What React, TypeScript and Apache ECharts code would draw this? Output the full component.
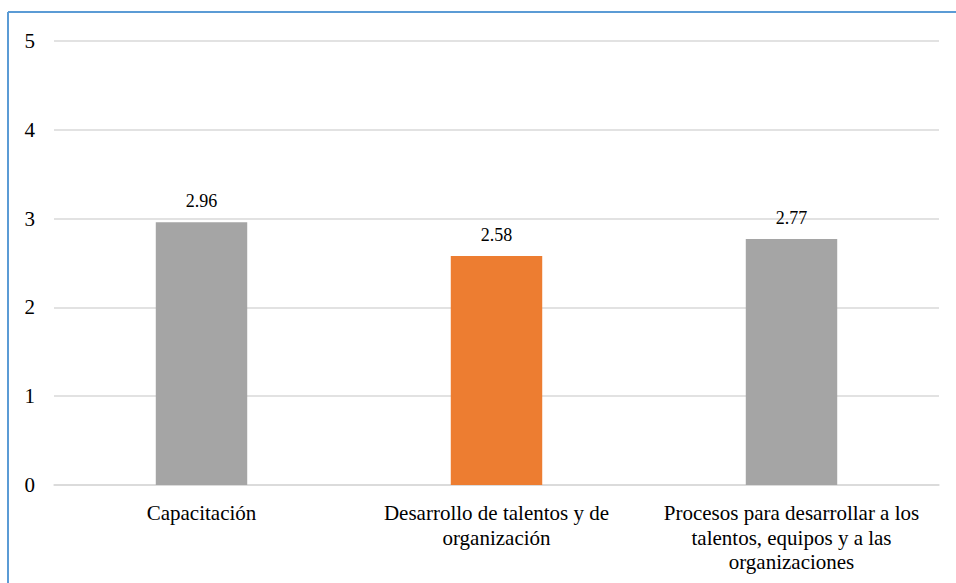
import React, { useEffect, useRef } from "react";
import * as echarts from "echarts";

const categories = [
  "Capacitación",
  "Desarrollo de talentos y de\norganización",
  "Procesos para desarrollar a los\ntalentos, equipos y a las\norganizaciones",
];
const values = [2.96, 2.58, 2.77];
const barColors = ["#A5A5A5", "#ED7D31", "#A5A5A5"];
const yTicks = [0, 1, 2, 3, 4, 5];

export default function App() {
  const ref = useRef<HTMLDivElement>(null);
  useEffect(() => {
    if (!ref.current) return;
    const chart = echarts.init(ref.current, undefined, { renderer: "svg" });
    const font = "Times New Roman, serif";
    chart.setOption({
      animation: false,
      backgroundColor: "#ffffff",
      textStyle: { fontFamily: font },
      grid: { left: 54, right: 17, top: 41, bottom: 98, containLabel: false },
      graphic: [
        {
          type: "line",
          shape: { x1: 8, y1: 12, x2: 956, y2: 12 },
          style: { stroke: "#5B9BD5", lineWidth: 2 },
        },
        {
          type: "line",
          shape: { x1: 8, y1: 12, x2: 8, y2: 583 },
          style: { stroke: "#5B9BD5", lineWidth: 2 },
        },
      ],
      xAxis: {
        type: "category",
        data: categories,
        axisLine: { show: true, lineStyle: { color: "#D9D9D9", width: 1.5 } },
        axisTick: { show: false },
        axisLabel: {
          interval: 0,
          margin: 16,
          fontSize: 21,
          lineHeight: 24.5,
          color: "#000000",
          fontFamily: font,
          align: "center",
        },
      },
      yAxis: {
        type: "value",
        min: yTicks[0],
        max: yTicks[yTicks.length - 1],
        interval: 1,
        axisLine: { show: false },
        axisTick: { show: false },
        splitLine: { lineStyle: { color: "#D9D9D9", width: 1.5 } },
        axisLabel: {
          margin: 19,
          fontSize: 21,
          color: "#000000",
          fontFamily: font,
        },
      },
      series: [
        {
          type: "bar",
          barWidth: "31%",
          data: values.map((v, i) => ({ value: v, itemStyle: { color: barColors[i] } })),
          label: {
            show: true,
            position: "top",
            distance: 12,
            fontSize: 18,
            color: "#000000",
            fontFamily: font,
            formatter: (p: any) => p.value.toFixed(2),
          },
        },
      ],
    });
    return () => chart.dispose();
  }, []);
  return (
    <div
      ref={ref}
      style={{ position: "absolute", left: 0, top: 0, width: 956, height: 583 }}
    />
  );
}
